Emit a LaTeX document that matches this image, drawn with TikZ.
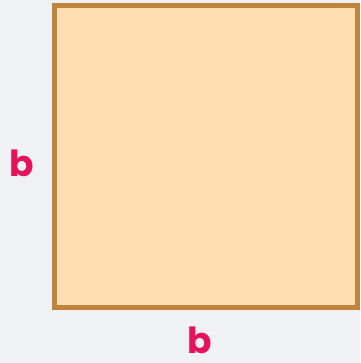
\documentclass[tikz,border=0pt]{standalone}
\usepackage{fontspec}
\setmainfont{Poppins}
\usetikzlibrary{positioning}

\definecolor{bgcol}{HTML}{EFF1F4}
\definecolor{sqfill}{HTML}{FFDFB2}
\definecolor{sqline}{HTML}{C0843A}
\definecolor{labcol}{HTML}{E6135A}

\begin{document}
\begin{tikzpicture}[x=1pt, y=-1pt,
    sidebox/.style={rectangle, draw=sqline, fill=sqfill, line width=5pt, minimum width=302.5pt, minimum height=302pt, inner sep=0pt},
    dimlabel/.style={text=labcol, font=\fontsize{36}{40}\selectfont\bfseries, inner sep=0pt}
]

% ==== Background ====
\fill[bgcol] (0,0) rectangle (360,363);
\useasboundingbox (0,0) rectangle (360,363);

% ==== Square ====
\node[sidebox] (square) at (205.75,156.5) {};

% ==== Side labels ====
\node[dimlabel] (leftb) at (21.5,163) {b};
\node[dimlabel] (bottomb) at (200,340) {b};

\end{tikzpicture}
\end{document}
